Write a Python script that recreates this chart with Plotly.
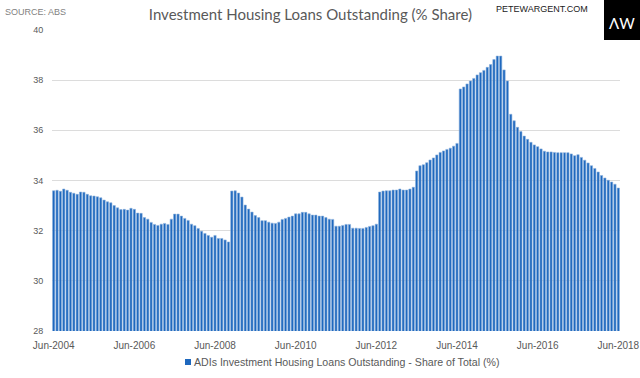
import plotly.graph_objects as go

# ---- data ----
start_year, start_month = 2004, 6
n_months = 169
month_names = ["Jan", "Feb", "Mar", "Apr", "May", "Jun",
               "Jul", "Aug", "Sep", "Oct", "Nov", "Dec"]
categories = []
for k in range(n_months):
    m = (start_month - 1 + k) % 12
    y = start_year + (start_month - 1 + k) // 12
    categories.append(f"{month_names[m]}-{y}")

share_pct = [
    33.59, 33.61, 33.57, 33.66, 33.61, 33.53, 33.49, 33.45, 33.54, 33.53,
    33.45, 33.39, 33.38, 33.35, 33.31, 33.22, 33.15, 33.11, 33.00, 32.91,
    32.84, 32.85, 32.82, 32.89, 32.85, 32.70, 32.69, 32.52, 32.46, 32.33,
    32.25, 32.21, 32.26, 32.29, 32.25, 32.46, 32.66, 32.66, 32.58, 32.49,
    32.41, 32.26, 32.20, 32.09, 31.98, 31.89, 31.81, 31.74, 31.81, 31.69,
    31.69, 31.63, 31.55, 33.58, 33.59, 33.50, 33.34, 33.02, 32.86, 32.74,
    32.60, 32.52, 32.40, 32.40, 32.34, 32.30, 32.29, 32.34, 32.45, 32.49,
    32.54, 32.58, 32.67, 32.67, 32.73, 32.73, 32.67, 32.62, 32.62, 32.58,
    32.58, 32.52, 32.46, 32.45, 32.18, 32.18, 32.21, 32.25, 32.25, 32.10,
    32.10, 32.09, 32.09, 32.13, 32.17, 32.20, 32.26, 33.54, 33.58, 33.59,
    33.59, 33.62, 33.62, 33.66, 33.62, 33.62, 33.66, 33.73, 34.38, 34.59,
    34.63, 34.71, 34.82, 34.90, 35.02, 35.12, 35.18, 35.24, 35.29, 35.37,
    35.48, 37.65, 37.73, 37.85, 37.97, 38.07, 38.21, 38.30, 38.39, 38.51,
    38.62, 38.82, 38.96, 38.96, 38.41, 37.97, 36.64, 36.38, 36.12, 35.95,
    35.77, 35.64, 35.52, 35.42, 35.35, 35.26, 35.17, 35.14, 35.14, 35.12,
    35.11, 35.11, 35.11, 35.11, 35.06, 34.99, 35.03, 34.92, 34.81, 34.70,
    34.59, 34.48, 34.34, 34.20, 34.10, 34.01, 33.94, 33.85, 33.70,
]

tick_labels = ["Jun-2004", "Jun-2006", "Jun-2008", "Jun-2010",
               "Jun-2012", "Jun-2014", "Jun-2016", "Jun-2018"]
y_ticks = [28, 30, 32, 34, 36, 38, 40]

series_name = "ADIs Investment Housing Loans Outstanding - Share of Total (%)"
title_text = "Investment Housing Loans Outstanding (% Share)"

# ---- geometry (pixels) ----
W, H = 640, 378
L, R, T, B = 52, 20, 30, 47
PW, PH = W - L - R, H - T - B


def px(x):
    return (x - L) / PW


def py(y):
    return (H - B - y) / PH


bar_color = "#1E68BE"
grey = "#595959"

# ---- figure ----
fig = go.Figure()
fig.add_trace(go.Bar(
    x=categories,
    y=share_pct,
    name=series_name,
    marker=dict(color=bar_color, line=dict(color="#8DB2DE", width=0.6)),
    showlegend=False,
))

fig.update_layout(
    width=W, height=H,
    paper_bgcolor="white", plot_bgcolor="white",
    margin=dict(l=L, r=R, t=T, b=B, autoexpand=False),
    bargap=0.32,
    showlegend=False,
    font=dict(family="Liberation Sans", color=grey),
    title=dict(text=title_text, x=0.485, xanchor="center", y=1 - 15 / H, yanchor="middle",
               font=dict(family="Lato", size=15, color=grey)),
)
fig.update_xaxes(
    type="category", automargin=False,
    tickmode="array", tickvals=tick_labels, ticktext=tick_labels,
    tickangle=0, showgrid=False, showline=False,
    ticks="outside", ticklen=5, tickcolor="rgba(0,0,0,0)",
    tickfont=dict(family="Liberation Sans", size=10, color=grey),
    range=[-0.5, n_months - 0.5],
)
fig.update_yaxes(
    range=[28, 40], tickvals=y_ticks, automargin=False,
    showgrid=True, gridcolor="#DCDCDC", gridwidth=1,
    zeroline=False, showline=False,
    ticks="outside", ticklen=6, tickcolor="rgba(0,0,0,0)",
    tickfont=dict(family="Liberation Sans", size=9, color=grey),
)

# legend drawn as a marker square + text
fig.add_shape(type="rect", xref="paper", yref="paper",
              x0=px(185), x1=px(191), y0=py(365), y1=py(359),
              fillcolor=bar_color, line=dict(width=0))
fig.add_annotation(text=series_name, xref="paper", yref="paper",
                   x=px(192), y=py(362), xanchor="left", yanchor="middle", showarrow=False,
                   font=dict(family="Liberation Sans", size=10.6, color=grey))

fig.add_annotation(text="SOURCE: ABS", xref="paper", yref="paper",
                   x=px(3), y=py(12), xanchor="left", yanchor="middle", showarrow=False,
                   font=dict(family="Liberation Sans", size=9, color="#7F7F7F"))
fig.add_annotation(text="PETEWARGENT.COM", xref="paper", yref="paper",
                   x=px(494), y=py(9), xanchor="left", yanchor="middle", showarrow=False,
                   font=dict(family="Liberation Sans", size=9, color="#222222"))
fig.add_shape(type="rect", xref="paper", yref="paper",
              x0=px(604), x1=px(641), y0=py(40), y1=py(-1),
              fillcolor="black", line=dict(width=0), layer="above")
fig.add_annotation(text="ΛW", xref="paper", yref="paper",
                   x=px(622), y=py(23), xanchor="center", yanchor="middle",
                   showarrow=False, font=dict(family="Lato", size=15, color="white"))

fig.write_html("out.html",
               config={"displayModeBar": False},
               post_script="document.body.style.margin='0';document.body.style.overflow='hidden';")
